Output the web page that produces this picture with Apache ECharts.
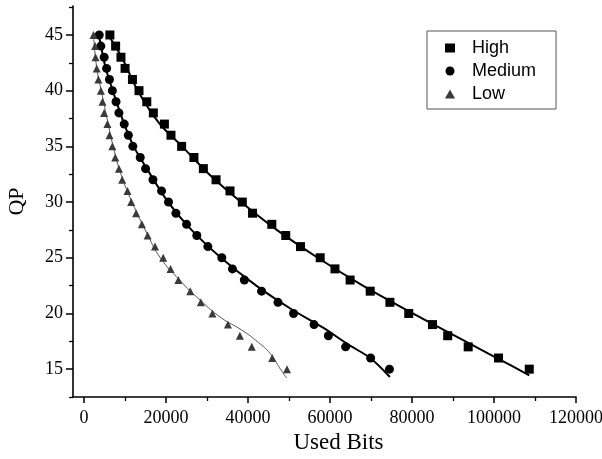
<!DOCTYPE html>
<html>
<head>
<meta charset="utf-8">
<script src="https://cdn.jsdelivr.net/npm/echarts@6/dist/echarts.min.js"></script>
<style>html,body{margin:0;padding:0;background:#fff;}#c{width:602px;height:459px;}</style>
</head>
<body>
<div id="c"></div>
<script>
// QP levels (y)
const qp = [45,44,43,42,41,40,39,38,37,36,35,34,33,32,31,30,29,28,27,26,25,24,23,22,21,20,19,18,17,16,15];
// Used bits per QP (x)
const high = [6300,7700,9000,10000,11800,13400,15300,16900,19600,21200,23800,26800,29100,32200,35600,38600,
              41100,45800,49200,52800,57600,61200,64900,69800,74600,79200,85000,88700,93700,101100,108600];
const medium = [3700,4100,4900,5500,6200,6900,7800,8500,9800,10800,11900,13700,15000,16800,18900,20600,
                22400,25000,27500,30200,33600,36200,39100,43300,47300,51100,56100,59600,63800,69900,74500];
const low = [2300,2700,2800,3100,3500,4100,4500,4900,5700,6200,6900,7600,8500,9300,10600,11500,
             12700,14100,15500,17300,19300,21100,23000,25900,28500,31300,35100,38000,40900,45900,49500];
// fitted curves: [bits, qp]
const highFitBits = [5900,9200,13100,18500,23900,30500,38300,47000,57000,68000,80200,90400,100700,108600];
const highFitQP   = [45,43,40,37,35,32.5,30,27.5,25,22.5,20,18,16,14.45];
const medFitBits  = [3600,5300,7000,9800,12100,15300,20500,26200,33400,42000,50500,58400,64500,69800,74600];
const medFitQP    = [45,42,40,37,35,33,30,27.5,25,22.5,20.4,18.7,17.2,16,14.3];
const lowFitBits  = [2300,3100,4200,5900,7100,9000,11700,15600,18600,23300,28300,33500,38500,42500,45400,47900,49400];
const lowFitQP    = [45,42,40,37,35,32.5,30,27,25,23,21.2,19.6,18.5,17.4,16.4,15,14.2];
// ticks
const xMajor = [0,20000,40000,60000,80000,100000,120000];
const xMinor = [10000,30000,50000,70000,90000,110000];
const yMajor = [15,20,25,30,35,40,45];
const yMinor = [12.5,17.5,22.5,27.5,32.5,37.5,42.5,47.5];

const pairs = (xs, ys) => xs.map((v,i)=>[v, ys[i]]);
const serif = 'Liberation Serif';
const axisCol = '#000';

const chart = echarts.init(document.getElementById('c'));
chart.setOption({
  animation: false,
  backgroundColor: '#fff',
  grid: {left: 73, right: 26, top: 6, bottom: 62, containLabel: false, outerBoundsMode: 'none'},
  xAxis: [{
    type: 'value', min: -2700, max: 120000,
    name: 'Used Bits', nameLocation: 'middle', nameGap: 34,
    nameTextStyle: {fontFamily: serif, fontSize: 23, color: '#000', padding: [0,0,0,28]},
    splitLine: {show: false},
    axisLine: {onZero: false, lineStyle: {color: axisCol, width: 1.6}},
    axisTick: {customValues: xMajor, length: 6, lineStyle: {color: axisCol, width: 1.5}},
    axisLabel: {customValues: xMajor, margin: 12, fontFamily: serif, fontSize: 18, color: '#000',
                formatter: v => String(v)}
  }, {
    type: 'value', min: -2700, max: 120000, position: 'top', offset: -391,
    splitLine: {show: false}, axisLine: {show: false, onZero: false},
    axisLabel: {show: false},
    axisTick: {customValues: xMinor, inside: true, length: 4, lineStyle: {color: axisCol, width: 1.3}}
  }],
  yAxis: [{
    type: 'value', min: 12.5, max: 47.6,
    name: 'QP', nameLocation: 'middle', nameGap: 45,
    nameTextStyle: {fontFamily: serif, fontSize: 22, color: '#000'},
    splitLine: {show: false},
    axisLine: {onZero: false, lineStyle: {color: axisCol, width: 1.6}},
    axisTick: {customValues: yMajor, length: 7, lineStyle: {color: axisCol, width: 1.5}},
    axisLabel: {customValues: yMajor, margin: 10, fontFamily: serif, fontSize: 18, color: '#000'}
  }, {
    type: 'value', min: 12.5, max: 47.6, position: 'right', offset: -503,
    splitLine: {show: false}, axisLine: {show: false, onZero: false},
    axisLabel: {show: false},
    axisTick: {customValues: yMinor, inside: true, length: 4, lineStyle: {color: axisCol, width: 1.3}}
  }],
  legend: {
    orient: 'vertical', left: 427, top: 31,
    padding: [8, 20, 6, 18], itemGap: 5, itemWidth: 10, itemHeight: 9,
    borderColor: '#555', borderWidth: 1, backgroundColor: '#fff',
    textStyle: {fontFamily: 'Liberation Sans', fontSize: 18, color: '#000', padding: [0,0,0,12]},
    data: [{name: 'High', icon: 'rect'}, {name: 'Medium', icon: 'circle'}, {name: 'Low', icon: 'triangle'}]
  },
  series: [
    {name: 'High fit', type: 'line', data: pairs(highFitBits, highFitQP), smooth: 0.3, showSymbol: false,
     lineStyle: {color: '#000', width: 2}, z: 1, silent: true},
    {name: 'Medium fit', type: 'line', data: pairs(medFitBits, medFitQP), smooth: 0.3, showSymbol: false,
     lineStyle: {color: '#000', width: 2}, z: 1, silent: true},
    {name: 'Low fit', type: 'line', data: pairs(lowFitBits, lowFitQP), smooth: 0.5, showSymbol: false,
     lineStyle: {color: '#555', width: 1}, z: 1, silent: true},
    {name: 'High', type: 'scatter', data: pairs(high, qp), symbol: 'rect', symbolSize: 9,
     itemStyle: {color: '#000', opacity: 1}, z: 3},
    {name: 'Medium', type: 'scatter', data: pairs(medium, qp), symbol: 'circle', symbolSize: 9,
     itemStyle: {color: '#000', opacity: 1}, z: 3},
    {name: 'Low', type: 'scatter', data: pairs(low, qp), symbol: 'triangle', symbolSize: 8,
     itemStyle: {color: '#3a3a3a', opacity: 1}, z: 3}
  ]
});
</script>
</body>
</html>
